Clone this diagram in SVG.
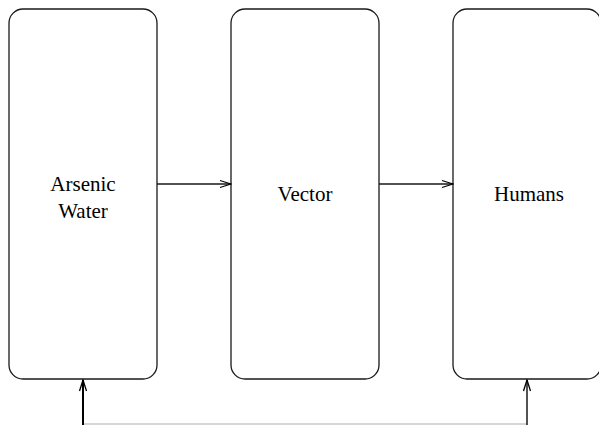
<svg xmlns="http://www.w3.org/2000/svg" width="599" height="425" viewBox="0 0 599 425">
  <style>
    .box { fill: #ffffff; stroke: #1a1a1a; stroke-width: 1.3; }
    .lbl { font-family: "Liberation Serif", "Times New Roman", serif; font-size: 21px; fill: #000000; text-anchor: middle; }
    .conn { fill: none; stroke: #1a1a1a; stroke-width: 1.3; }
  </style>
  <defs>
    <marker id="arr" markerWidth="13" markerHeight="10" refX="12" refY="5" orient="auto" markerUnits="userSpaceOnUse">
      <path d="M1,1.5 L12,5 L1,8.5" fill="none" stroke="#000" stroke-width="1.3"/>
    </marker>
  </defs>
  <rect x="0" y="0" width="599" height="425" fill="#ffffff"/>
  <g id="node-arsenic-water">
    <rect class="box" x="9" y="9" width="148" height="370" rx="14" ry="14"/>
    <text class="lbl" x="83" y="191">Arsenic</text>
    <text class="lbl" x="83" y="218">Water</text>
  </g>
  <g id="node-vector">
    <rect class="box" x="231" y="9" width="148" height="370" rx="14" ry="14"/>
    <text class="lbl" x="305" y="201">Vector</text>
  </g>
  <g id="node-humans">
    <rect class="box" x="453" y="9" width="148" height="370" rx="14" ry="14"/>
    <text class="lbl" x="529" y="201">Humans</text>
  </g>
  <g id="connectors">
    <line class="conn" x1="157" y1="184" x2="231" y2="184" marker-end="url(#arr)"/>
    <line class="conn" x1="379" y1="184" x2="453" y2="184" marker-end="url(#arr)"/>
    <line x1="83" y1="424" x2="527" y2="424" stroke="#c8c8c8" stroke-width="1.5"/>
    <line x1="83" y1="425" x2="83" y2="380" stroke="#000" stroke-width="2" marker-end="url(#arr)"/>
    <line x1="527" y1="425" x2="527" y2="380" stroke="#1a1a1a" stroke-width="1.5" marker-end="url(#arr)"/>
  </g>
</svg>
